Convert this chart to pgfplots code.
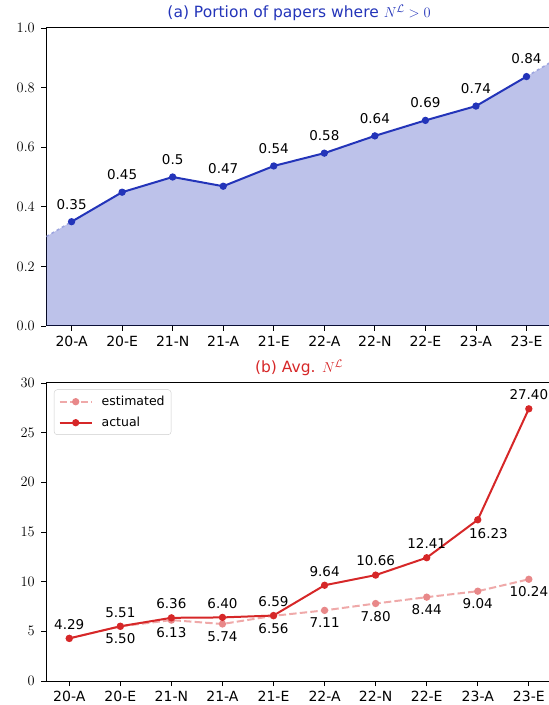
\documentclass[border=0pt]{standalone}
\usepackage{fontspec}
\usepackage{pgfplots}
\pgfplotsset{compat=1.18}
\newfontfamily\dejavu{DejaVu Sans}
\definecolor{cblue}{RGB}{35,52,185}
\definecolor{cred}{RGB}{214,39,40}

\tikzset{lbl/.style={font=\dejavu\fontsize{13.5}{15}\selectfont, text=black, inner sep=0pt}}
\pgfplotsset{
  panel/.style={
    scale only axis, width=505.5pt, height=298pt,
    xtick={0,...,9},
    xticklabels={20-A,20-E,21-N,21-A,21-E,22-A,22-N,22-E,23-A,23-E},
    tick align=outside, tick pos=left, major tick length=5pt,
    axis line style={line width=1pt},
    every tick/.style={black, line width=0.8pt},
    x tick label style={font=\dejavu\fontsize{14}{16}\selectfont, yshift=-2pt},
    y tick label style={font=\fontsize{14}{16}\selectfont, xshift=-3pt},
    title style={font=\dejavu\fontsize{15.5}{17}\selectfont, at={(0.5,1)}, anchor=south, yshift=-2pt},
  },
}

\begin{document}
\begin{tikzpicture}
\useasboundingbox (0,0) rectangle (549pt,705pt);

% (a) share of papers
\begin{axis}[panel, at={(46.3pt,379pt)}, anchor=south west,
    xmin=-0.5, xmax=9.5, ymin=0, ymax=1,
    ytick={0,0.2,0.4,0.6,0.8,1.0},
    yticklabel style={/pgf/number format/.cd, fixed, fixed zerofill, precision=1},
    title={\color{cblue}(a) Portion of papers where $N^{\mathcal{L}}>0$}]
  \addplot[fill=cblue, fill opacity=0.3, draw=none] coordinates {
    (-0.5,0.30) (0,0.35) (1,0.449) (2,0.50) (3,0.469) (4,0.537)
    (5,0.58) (6,0.638) (7,0.69) (8,0.738) (9,0.837) (9.5,0.887)} \closedcycle;
  \addplot[cblue!45, dashed, line width=1.5pt] coordinates {(-0.5,0.30) (0,0.35)};
  \addplot[cblue!45, dashed, line width=1.5pt] coordinates {(9,0.837) (9.5,0.887)};
  \addplot[cblue, line width=2pt, mark=*, mark size=2.6pt,
    point meta=explicit symbolic, nodes near coords,
    nodes near coords style={lbl, anchor=south, yshift=11.5pt}] coordinates {
    (0,0.35) [0.35] (1,0.449) [0.45] (2,0.50) [0.5] (3,0.469) [0.47]
    (4,0.537) [0.54] (5,0.58) [0.58] (6,0.638) [0.64] (7,0.69) [0.69]
    (8,0.738) [0.74] (9,0.837) [0.84]};
\end{axis}

% (b) average count
\begin{axis}[panel, at={(46.3pt,24pt)}, anchor=south west,
    xmin=-0.45, xmax=9.45, ymin=0, ymax=30,
    ytick={0,5,10,15,20,25,30},
    title={\color{cred}(b) Avg. $N^{\mathcal{L}}$},
    legend style={at={(0,1)}, anchor=north west, xshift=7.7pt, yshift=-6.5pt,
      draw=black!20, rounded corners=3pt, font=\dejavu\fontsize{12.5}{14}\selectfont,
      inner xsep=4.5pt, inner ysep=4.5pt, row sep=6pt,
      /tikz/every odd column/.append style={column sep=7pt}},
    legend cell align=left,
    legend image code/.code={\draw[mark repeat=2,mark phase=2,#1]
      plot coordinates {(0pt,0pt) (16pt,0pt) (32pt,0pt)};}]
  \addplot[cred!40, line width=2pt, dash pattern=on 7.4pt off 3.2pt,
    mark=*, mark size=2.6pt, mark options={solid, fill=cred!55, draw=cred!55},
    point meta=explicit symbolic, nodes near coords,
    nodes near coords style={lbl, anchor=north, yshift=-6.5pt}] coordinates {
    (0,4.29) [] (1,5.50) [5.50] (2,6.13) [6.13] (3,5.74) [5.74]
    (4,6.56) [6.56] (5,7.11) [7.11] (6,7.80) [7.80] (7,8.44) [8.44]
    (8,9.04) [9.04] (9,10.24) [10.24]};
  \addlegendentry{estimated}
  \addplot[cred, line width=2pt, mark=*, mark size=2.6pt,
    point meta=explicit symbolic, nodes near coords,
    nodes near coords style={lbl, anchor=south, yshift=8pt}] coordinates {
    (0,4.29) [4.29] (1,5.51) [5.51] (2,6.36) [6.36] (3,6.40) [6.40]
    (4,6.59) [6.59] (5,9.64) [9.64] (6,10.66) [10.66] (7,12.41) [12.41]
    (8,16.23) [] (9,27.40) [27.40]};
  \addlegendentry{actual}
  \addplot[draw=none, forget plot, point meta=explicit symbolic, nodes near coords,
    nodes near coords style={lbl, anchor=north, xshift=10.7pt, yshift=-8pt}]
    coordinates {(8,16.23) [16.23]};
\end{axis}
\end{tikzpicture}
\end{document}
